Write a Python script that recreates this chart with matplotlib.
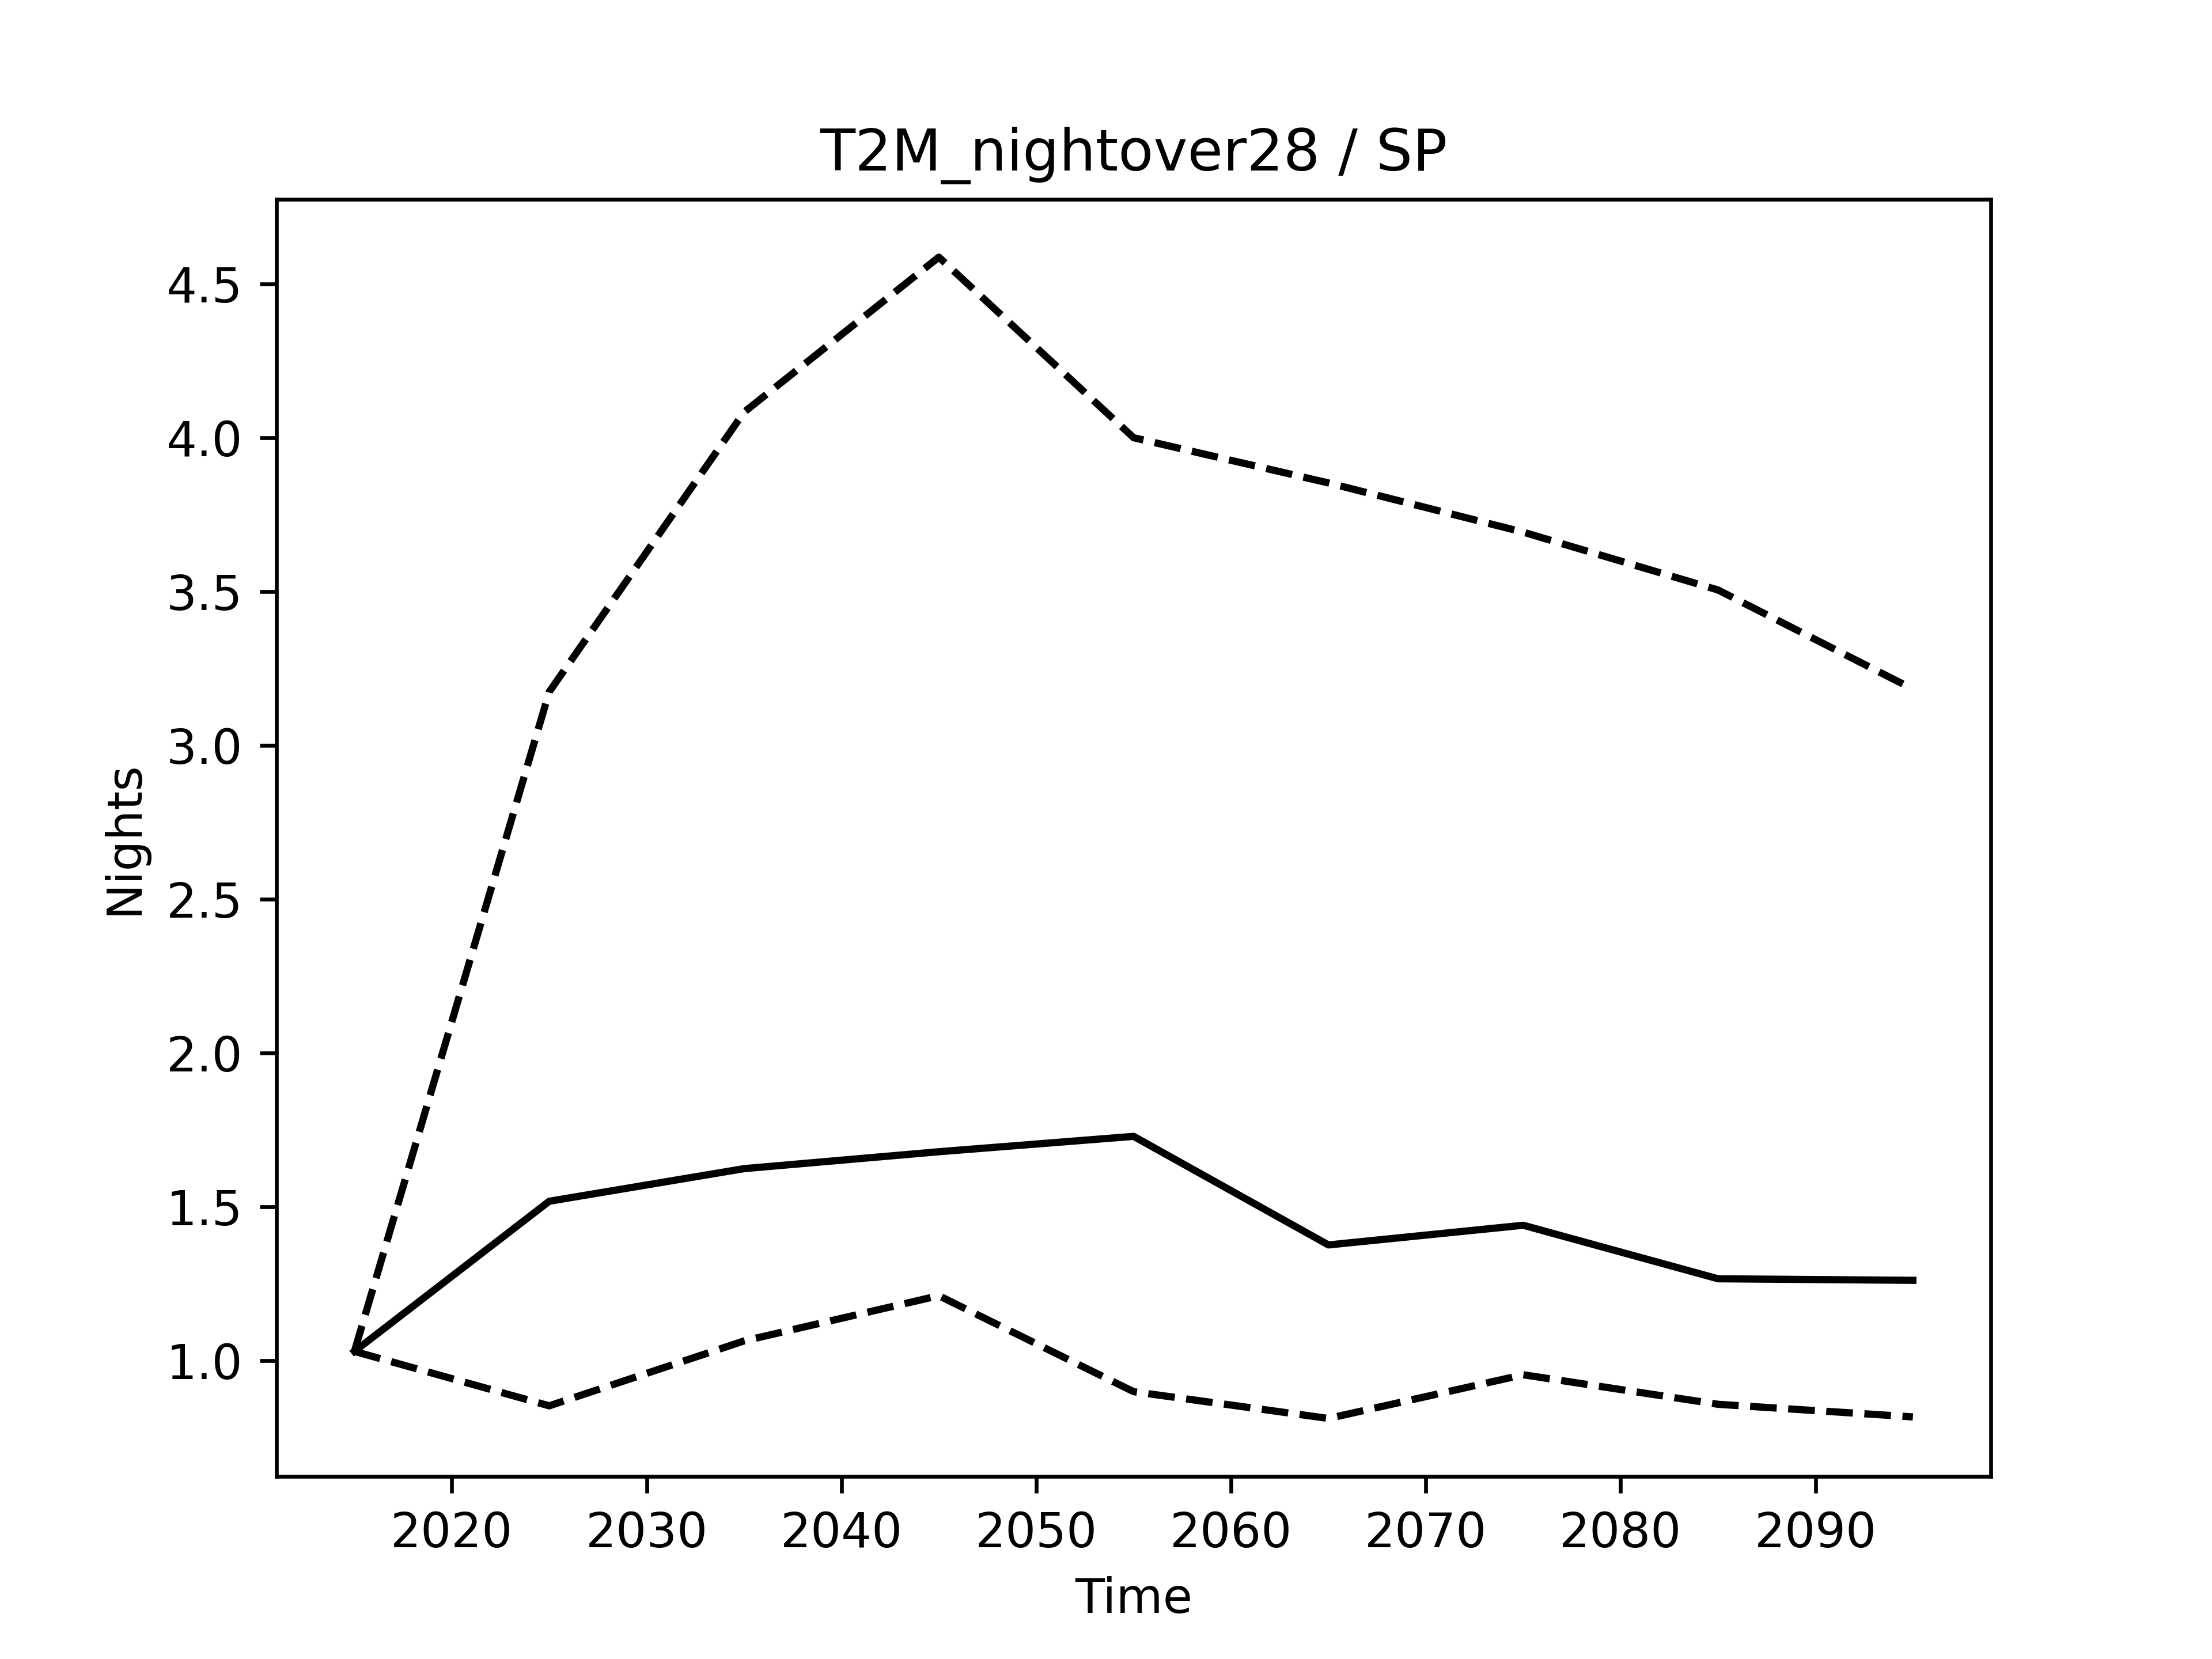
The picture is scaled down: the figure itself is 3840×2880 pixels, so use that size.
import matplotlib
matplotlib.use("Agg")
import matplotlib.pyplot as plt

years = [2015, 2025, 2035, 2045, 2055, 2065, 2075, 2085, 2095]
median = [1.03, 1.518, 1.624, 1.679, 1.729, 1.376, 1.44, 1.266, 1.261]
upper = [1.03, 3.174, 4.083, 4.587, 4.0, 3.853, 3.693, 3.505, 3.183]
lower = [1.03, 0.853, 1.064, 1.211, 0.899, 0.812, 0.954, 0.858, 0.817]

fig, ax = plt.subplots(figsize=(6.4, 4.8))
ax.plot(years, median, "k-")
ax.plot(years, upper, "k--")
ax.plot(years, lower, "k--")
ax.set_title("T2M_nightover28 / SP")
ax.set_xlabel("Time")
ax.set_ylabel("Nights")
fig.savefig("out.png", dpi=600)
